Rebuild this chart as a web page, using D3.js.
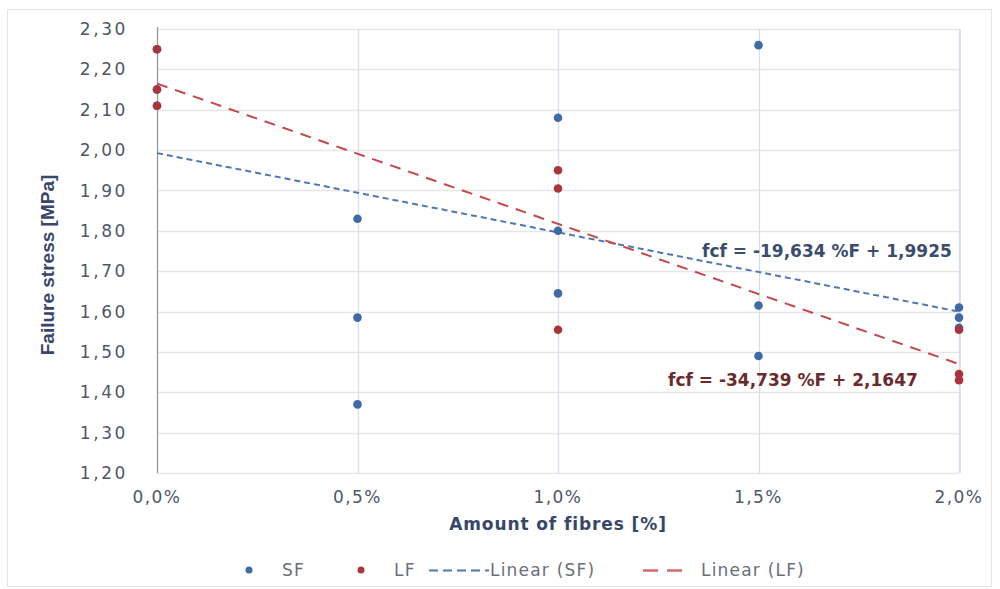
<!DOCTYPE html>
<html>
<head>
<meta charset="utf-8">
<script src="https://cdn.jsdelivr.net/npm/d3@7"></script>
<style>
  body { margin: 0; background: #fff; }
  svg { display: block; }
</style>
</head>
<body>
<svg width="1000" height="589"></svg>
<script>
// values (fibre amount as a fraction)
var fibreSF = [0, 0, 0, 0.005, 0.005, 0.005, 0.01, 0.01, 0.01, 0.015, 0.015, 0.015, 0.02, 0.02, 0.02];
var stressSF = [2.25, 2.15, 2.11, 1.83, 1.585, 1.37, 2.08, 1.80, 1.645, 2.26, 1.615, 1.49, 1.61, 1.585, 1.56];
var fibreLF = [0, 0, 0, 0.01, 0.01, 0.01, 0.02, 0.02, 0.02];
var stressLF = [2.25, 2.15, 2.11, 1.95, 1.905, 1.555, 1.555, 1.445, 1.43];

// trend lines as printed on the chart
var trendSF = { slope: -19.634, intercept: 1.9925, label: "fcf = -19,634 %F + 1,9925" };
var trendLF = { slope: -34.739, intercept: 2.1647, label: "fcf = -34,739 %F + 2,1647" };

var yTicks = [1.2, 1.3, 1.4, 1.5, 1.6, 1.7, 1.8, 1.9, 2.0, 2.1, 2.2, 2.3];
var xTicks = [0, 0.005, 0.01, 0.015, 0.02];

var blue = "#3f6aa6",
    red = "#aa3439",
    tickColor = "#4f5668",
    titleColor = "#37466a";

var loc = d3.formatLocale({ decimal: ",", thousands: ".", grouping: [3], currency: ["", "€"] });
var fmtY = loc.format(".2f"),
    fmtX = loc.format(".1%");

var svg = d3.select("svg");

// outer chart border
svg.append("rect")
    .attr("x", 7.5).attr("y", 9.5)
    .attr("width", 984).attr("height", 577)
    .attr("fill", "#fff")
    .attr("stroke", "#e3e3e3");

var x = d3.scaleLinear().domain([0, 0.02]).range([157, 959]);
var y = d3.scaleLinear().domain([1.2, 2.3]).range([473, 29]);

var g = svg.append("g");

// horizontal grid
g.selectAll(".hgrid")
    .data(yTicks)
    .enter().append("line")
      .attr("class", "hgrid")
      .attr("x1", x(0)).attr("x2", x(0.02))
      .attr("y1", function(d) { return Math.round(y(d)) + 0.5; })
      .attr("y2", function(d) { return Math.round(y(d)) + 0.5; })
      .attr("stroke", "#e6e6e6")
      .attr("stroke-width", 1.5);

// vertical grid
g.selectAll(".vgrid")
    .data(xTicks.slice(1))
    .enter().append("line")
      .attr("class", "vgrid")
      .attr("x1", function(d) { return Math.round(x(d)) + 0.5; })
      .attr("x2", function(d) { return Math.round(x(d)) + 0.5; })
      .attr("y1", y(2.3)).attr("y2", y(1.2))
      .attr("stroke", "#d3dded")
      .attr("stroke-width", 1.2);

// right frame edge
g.append("line")
    .attr("x1", x(0.02) + 1.5).attr("x2", x(0.02) + 1.5)
    .attr("y1", y(2.3)).attr("y2", y(1.2))
    .attr("stroke", "#e2e2e2");

// y axis line at 0%
g.append("line")
    .attr("x1", x(0) + 0.5).attr("x2", x(0) + 0.5)
    .attr("y1", y(2.3) - 2).attr("y2", y(1.2))
    .attr("stroke", "#8d929b")
    .attr("stroke-width", 1.2);

// tick labels
g.selectAll(".ylab")
    .data(yTicks)
    .enter().append("text")
      .attr("class", "ylab")
      .attr("x", 128)
      .attr("y", function(d) { return y(d); })
      .attr("dy", "0.36em")
      .attr("text-anchor", "end")
      .attr("fill", tickColor)
      .style("font", "17px 'DejaVu Sans', sans-serif")
      .style("letter-spacing", "2.6px")
      .text(function(d) { return fmtY(d); });

g.selectAll(".xlab")
    .data(xTicks)
    .enter().append("text")
      .attr("class", "xlab")
      .attr("x", function(d) { return x(d); })
      .attr("y", 497)
      .attr("dy", "0.36em")
      .attr("text-anchor", "middle")
      .attr("fill", tickColor)
      .style("font", "17px 'DejaVu Sans', sans-serif")
      .style("letter-spacing", "1.4px")
      .text(function(d) { return fmtX(d); });

// axis titles
svg.append("text")
    .attr("x", x(0.01))
    .attr("y", 524)
    .attr("dy", "0.36em")
    .attr("text-anchor", "middle")
    .attr("fill", titleColor)
    .style("font", "bold 17px 'DejaVu Sans', sans-serif")
    .style("letter-spacing", "0.9px")
    .text("Amount of fibres [%]");

svg.append("text")
    .attr("transform", "translate(47,265) rotate(-90)")
    .attr("dy", "0.36em")
    .attr("text-anchor", "middle")
    .attr("fill", titleColor)
    .style("font", "bold 19px 'Liberation Sans Narrow', 'Liberation Sans', sans-serif")
    .text("Failure stress [MPa]");

// trend lines
function trendPoints(t) {
  return [0, 0.02].map(function(f) { return [x(f), y(t.intercept + t.slope * f)]; });
}
var line = d3.line();

g.append("path")
    .attr("d", line(trendPoints(trendSF)))
    .attr("fill", "none")
    .attr("stroke", "#4d79b0")
    .attr("stroke-width", 2)
    .attr("stroke-dasharray", "6,4");

g.append("path")
    .attr("d", line(trendPoints(trendLF)))
    .attr("fill", "none")
    .attr("stroke", "#c4484d")
    .attr("stroke-width", 2)
    .attr("stroke-dasharray", "11,8");

// points (SF first, LF drawn on top)
g.selectAll(".sf")
    .data(d3.zip(fibreSF, stressSF))
    .enter().append("circle")
      .attr("class", "sf")
      .attr("cx", function(d) { return x(d[0]); })
      .attr("cy", function(d) { return y(d[1]); })
      .attr("r", 4.3)
      .attr("fill", blue);

g.selectAll(".lf")
    .data(d3.zip(fibreLF, stressLF))
    .enter().append("circle")
      .attr("class", "lf")
      .attr("cx", function(d) { return x(d[0]); })
      .attr("cy", function(d) { return y(d[1]); })
      .attr("r", 4.3)
      .attr("fill", red);

// equation labels
svg.append("text")
    .attr("x", 702).attr("y", 251)
    .attr("dy", "0.36em")
    .attr("fill", "#3a4d6e")
    .style("font", "bold 17px 'DejaVu Sans', sans-serif")
    .text(trendSF.label);

svg.append("text")
    .attr("x", 668).attr("y", 380)
    .attr("dy", "0.36em")
    .attr("fill", "#6a2b2e")
    .style("font", "bold 17px 'DejaVu Sans', sans-serif")
    .text(trendLF.label);

// legend
var lg = svg.append("g").attr("transform", "translate(0,570)");
var legendFont = "17px 'DejaVu Sans', sans-serif",
    legendColor = "#6a6f78";

function legendText(xp, txt) {
  lg.append("text").attr("x", xp).attr("dy", "0.36em").attr("fill", legendColor)
      .style("font", legendFont).style("letter-spacing", "1.2px").text(txt);
}

lg.append("circle").attr("cx", 249).attr("cy", 0).attr("r", 3.5).attr("fill", blue);
legendText(282, "SF");

lg.append("circle").attr("cx", 361).attr("cy", 0).attr("r", 3.5).attr("fill", red);
legendText(394, "LF");

lg.append("line").attr("x1", 429).attr("x2", 489).attr("y1", 0.5).attr("y2", 0.5)
    .attr("stroke", "#4d79b0").attr("stroke-width", 2).attr("stroke-dasharray", "9,5");
legendText(490, "Linear (SF)");

lg.append("line").attr("x1", 643).attr("x2", 682).attr("y1", 0.5).attr("y2", 0.5)
    .attr("stroke", "#d46a70").attr("stroke-width", 2.5).attr("stroke-dasharray", "15,9");
legendText(701, "Linear (LF)");
</script>
</body>
</html>
